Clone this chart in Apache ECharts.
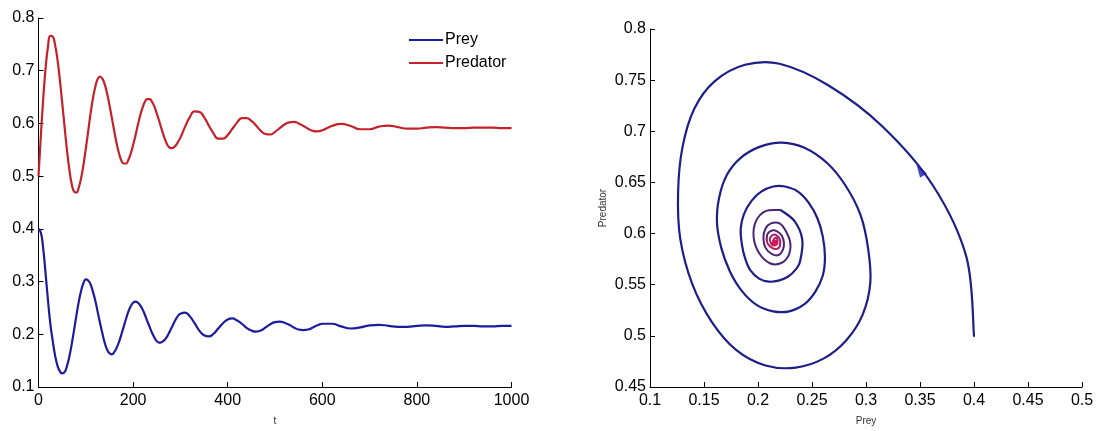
<!DOCTYPE html>
<html><head><meta charset="utf-8">
<script src="https://cdn.jsdelivr.net/npm/echarts@6/dist/echarts.min.js"></script>
<style>html,body{margin:0;padding:0;background:#fff}#c{width:1099px;height:431px}</style>
</head><body><div id="c"></div><script>
// time grid (t)
const tVals = [0,5,10,15,20,25,30,35,40,45,50,55,60,65,70,75,80,85,90,95,100,
  105,110,115,120,125,130,135,140,145,150,155,160,165,170,175,180,185,190,195,200,
  205,210,215,220,225,230,235,240,245,250,255,260,265,270,275,280,285,290,295,300,
  310,320,330,340,350,360,370,380,390,400,
  410,420,430,440,450,460,470,480,490,500,
  510,520,530,540,550,560,570,580,590,600,
  620,640,660,680,700,720,740,760,780,800,
  820,840,860,880,900,920,940,960,980,1000];
// prey population
const prey = [0.400,0.393,0.362,0.315,0.265,0.220,0.188,0.160,0.141,0.130,0.126,0.128,0.139,0.157,0.180,0.207,0.235,0.261,0.282,0.297,0.304,
  0.302,0.295,0.281,0.264,0.243,0.222,0.202,0.184,0.171,0.164,0.162,0.166,0.174,0.185,0.199,0.214,0.229,0.243,0.253,0.260,
  0.262,0.260,0.255,0.247,0.237,0.225,0.214,0.203,0.194,0.187,0.184,0.185,0.188,0.193,0.201,0.210,0.219,0.228,0.235,0.239,
  0.241,0.234,0.221,0.207,0.198,0.196,0.201,0.211,0.221,0.228,
  0.230,0.226,0.220,0.212,0.207,0.205,0.207,0.213,0.219,0.223,
  0.224,0.222,0.218,0.213,0.209,0.208,0.209,0.213,0.217,0.220,
  0.220,0.215,0.211,0.213,0.217,0.218,0.216,0.214,0.214,0.216,
  0.217,0.216,0.214,0.215,0.216,0.216,0.215,0.215,0.216,0.216];
// predator population
const predator = [0.500,0.577,0.647,0.705,0.745,0.766,0.765,0.749,0.722,0.684,0.640,0.595,0.551,0.514,0.486,0.471,0.469,0.478,0.496,0.521,0.552,
  0.585,0.618,0.647,0.669,0.684,0.689,0.685,0.674,0.657,0.635,0.611,0.586,0.563,0.544,0.530,0.524,0.524,0.531,0.543,0.559,
  0.577,0.597,0.615,0.630,0.641,0.646,0.646,0.641,0.632,0.619,0.605,0.590,0.576,0.564,0.556,0.553,0.554,0.558,0.565,0.573,
  0.594,0.612,0.623,0.622,0.612,0.596,0.581,0.571,0.571,0.578,
  0.590,0.602,0.610,0.610,0.605,0.596,0.586,0.580,0.579,0.584,
  0.591,0.598,0.602,0.603,0.600,0.595,0.590,0.586,0.585,0.587,
  0.595,0.599,0.595,0.589,0.589,0.594,0.596,0.593,0.590,0.590,
  0.592,0.593,0.592,0.591,0.591,0.592,0.592,0.592,0.591,0.591];
const seriesNames = ['Prey','Predator'];
const arrowAt = [0.35, 0.662];
const innerFrom = 330;   // t from which the spiral turns purple
const coreFrom = 560;    // t from which the spiral core is magenta

const FONT = 'Liberation Sans, Arial, sans-serif';
function lab(margin){ return {color:'#000',fontSize:16,fontFamily:FONT,margin:margin,formatter:v=>String(+v.toFixed(4))}; }
function axisBase(extra){
  return Object.assign({
    type:'value',
    axisLine:{show:true,onZero:false,lineStyle:{color:'#000',width:1}},
    axisTick:{show:true,inside:true,length:5,lineStyle:{color:'#000',width:1}},
    splitLine:{show:false},
    nameTextStyle:{color:'#333',fontSize:10,fontFamily:FONT}
  }, extra);
}
const preySeries = tVals.map((t,i)=>[t,prey[i]]);
const predSeries = tVals.map((t,i)=>[t,predator[i]]);
const phase = tVals.map((t,i)=>[prey[i],predator[i]]);
const iInner = tVals.indexOf(innerFrom);
const iCore = tVals.indexOf(coreFrom);
const last = phase[phase.length-1];

// smooth 2-D curve through data points (Catmull-Rom), positioned with the axis scales
function phaseCurve(pts, color, width){
  return {
    type:'custom', xAxisIndex:1, yAxisIndex:1, data:pts, encode:{x:0,y:1}, silent:true,
    renderItem:function(params, api){
      if (params.dataIndex !== 0) return null;
      const P = pts.map(p=>api.coord(p));
      let d = 'M' + P[0][0] + ' ' + P[0][1];
      for (let i=0;i<P.length-1;i++){
        const p0 = P[Math.max(i-1,0)], p1 = P[i], p2 = P[i+1], p3 = P[Math.min(i+2,P.length-1)];
        const c1x = p1[0] + (p2[0]-p0[0])/6, c1y = p1[1] + (p2[1]-p0[1])/6;
        const c2x = p2[0] - (p3[0]-p1[0])/6, c2y = p2[1] - (p3[1]-p1[1])/6;
        d += ' C' + c1x + ' ' + c1y + ' ' + c2x + ' ' + c2y + ' ' + p2[0] + ' ' + p2[1];
      }
      return {type:'path', shape:{pathData:d}, style:{stroke:color, lineWidth:width, fill:null, lineJoin:'round', lineCap:'round'}};
    }
  };
}

const chart = echarts.init(document.getElementById('c'), null, {renderer:'canvas'});
chart.setOption({
  animation:false,
  backgroundColor:'#fff',
  grid:[
    {left:38.5, right:587.5, top:18, bottom:41},
    {left:650, right:17, top:29, bottom:40}
  ],
  legend:{
    data:seriesNames, orient:'vertical', left:404, top:27,
    icon:'rect', itemWidth:34, itemHeight:2, itemGap:7,
    textStyle:{color:'#000',fontSize:16,fontFamily:FONT,lineHeight:16,padding:[0,0,0,-3]}
  },
  xAxis:[
    axisBase({gridIndex:0,min:0,max:1000,interval:200,name:'t',nameLocation:'middle',nameGap:29,axisLabel:lab(6)}),
    axisBase({gridIndex:1,min:0.1,max:0.5,interval:0.05,name:'Prey',nameLocation:'middle',nameGap:29,axisLabel:lab(6)})
  ],
  yAxis:[
    axisBase({gridIndex:0,min:0.1,max:0.8,interval:0.1,axisLabel:lab(4)}),
    axisBase({gridIndex:1,min:0.45,max:0.8,interval:0.05,name:'Predator',nameLocation:'middle',nameGap:42,axisLabel:lab(4)})
  ],
  series:[
    {name:seriesNames[0],type:'line',xAxisIndex:0,yAxisIndex:0,data:preySeries,smooth:0.5,showSymbol:false,
      lineStyle:{color:'#1c1c9c',width:2.2},itemStyle:{color:'#1c1c9c'}},
    {name:seriesNames[1],type:'line',xAxisIndex:0,yAxisIndex:0,data:predSeries,smooth:0.5,showSymbol:false,
      lineStyle:{color:'#c4222a',width:2.2},itemStyle:{color:'#c4222a'}},
    phaseCurve(phase.slice(0,iInner+1), '#1e1e88', 2.2),
    phaseCurve(phase.slice(iInner,iCore+1), '#4a2676', 2),
    phaseCurve(phase.slice(iCore), '#b01e62', 2),
    {name:'center',type:'scatter',xAxisIndex:1,yAxisIndex:1,data:[last],symbol:'circle',symbolSize:6,
      itemStyle:{color:'#e0185a'}},
    {name:'arrow',type:'scatter',xAxisIndex:1,yAxisIndex:1,data:[arrowAt],symbol:'triangle',symbolSize:[8,13],symbolRotate:32,
      itemStyle:{color:'#1a1ab0'}}
  ]
});
</script></body></html>
